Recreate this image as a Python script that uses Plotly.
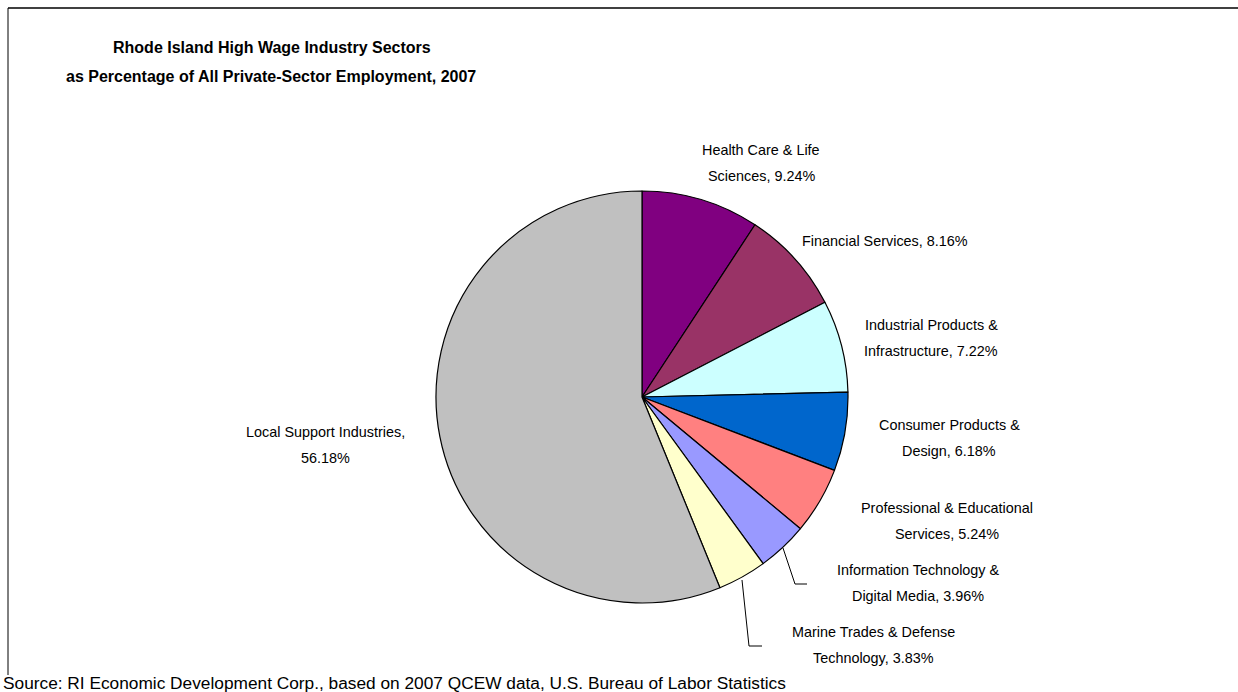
import plotly.graph_objects as go

categories = ["Health Care & Life Sciences", "Financial Services", "Industrial Products & Infrastructure",
              "Consumer Products & Design", "Professional & Educational Services",
              "Information Technology & Digital Media", "Marine Trades & Defense Technology",
              "Local Support Industries"]
values = [9.24, 8.16, 7.22, 6.18, 5.24, 3.96, 3.83, 56.18]
colors = ["#800080", "#993366", "#CCFFFF", "#0066CC", "#FF8080", "#9999FF", "#FFFFCC", "#C0C0C0"]

# label lines (two-line labels)
label_lines = [
    ("Health Care & Life", "Sciences, 9.24%"),
    ("Financial Services, 8.16%",),
    ("Industrial Products &", "Infrastructure, 7.22%"),
    ("Consumer Products &", "Design, 6.18%"),
    ("Professional & Educational", "Services, 5.24%"),
    ("Information Technology &", "Digital Media, 3.96%"),
    ("Marine Trades & Defense", "Technology, 3.83%"),
    ("Local Support Industries,", "56.18%"),
]
label_pos = [(761, 150), (885, 241), (931, 325), (949, 425), (947, 508), (918, 570), (873, 632), (325, 432)]

W, H = 1238, 692
cx, cy, r = 642, 397, 206

def px(x):
    return x / W

def py(y):
    return 1 - y / H

fig = go.Figure(go.Pie(
    labels=categories, values=values, sort=False, direction="clockwise", rotation=0,
    marker=dict(colors=colors, line=dict(color="black", width=1.2)),
    textinfo="none", hoverinfo="label+percent", showlegend=False,
    domain=dict(x=[px(cx - r), px(cx + r)], y=[py(cy + r), py(cy - r)]),
))

annotations = []
font = dict(family="Liberation Sans, Arial, sans-serif", size=14.4, color="black")
for lines, (x, y) in zip(label_lines, label_pos):
    for i, t in enumerate(lines):
        annotations.append(dict(text=t, x=px(x), y=py(y + 26 * i), xref="paper", yref="paper",
                                xanchor="center", yanchor="middle", showarrow=False, font=font))

tfont = dict(family="Liberation Sans, Arial, sans-serif", size=16, color="black")
annotations.append(dict(text="<b>Rhode Island High Wage Industry Sectors</b>", x=px(272), y=py(47),
                        xref="paper", yref="paper", xanchor="center", yanchor="middle", showarrow=False, font=tfont))
annotations.append(dict(text="<b>as Percentage of All Private-Sector Employment, 2007</b>", x=px(271), y=py(77),
                        xref="paper", yref="paper", xanchor="center", yanchor="middle", showarrow=False, font=tfont))
annotations.append(dict(text="Source: RI Economic Development Corp., based on 2007 QCEW data, U.S. Bureau of Labor Statistics",
                        x=px(1), y=py(683), xref="paper", yref="paper", xanchor="left", yanchor="middle",
                        showarrow=False, font=dict(family="Liberation Sans, Arial, sans-serif", size=17.3, color="black")))

shapes = [
    dict(type="line", xref="paper", yref="paper", x0=px(8), y0=py(675), x1=px(8), y1=py(8), line=dict(color="black", width=1)),
    dict(type="line", xref="paper", yref="paper", x0=px(8), y0=py(8), x1=1, y1=py(8), line=dict(color="black", width=1.5)),
    # leader lines
    dict(type="path", xref="paper", yref="paper",
         path=f"M {px(783)},{py(548)} L {px(795)},{py(584)} L {px(807)},{py(584)}", line=dict(color="black", width=1)),
    dict(type="path", xref="paper", yref="paper",
         path=f"M {px(742)},{py(580)} L {px(749)},{py(646)} L {px(762)},{py(646)}", line=dict(color="black", width=1)),
]

fig.update_layout(width=W, height=H, margin=dict(l=0, r=0, t=0, b=0),
                  paper_bgcolor="white", plot_bgcolor="white",
                  annotations=annotations, shapes=shapes)
fig.write_html("out.html", config={"displayModeBar": False},
               post_script="document.body.style.margin='0';document.body.style.overflow='hidden';")
